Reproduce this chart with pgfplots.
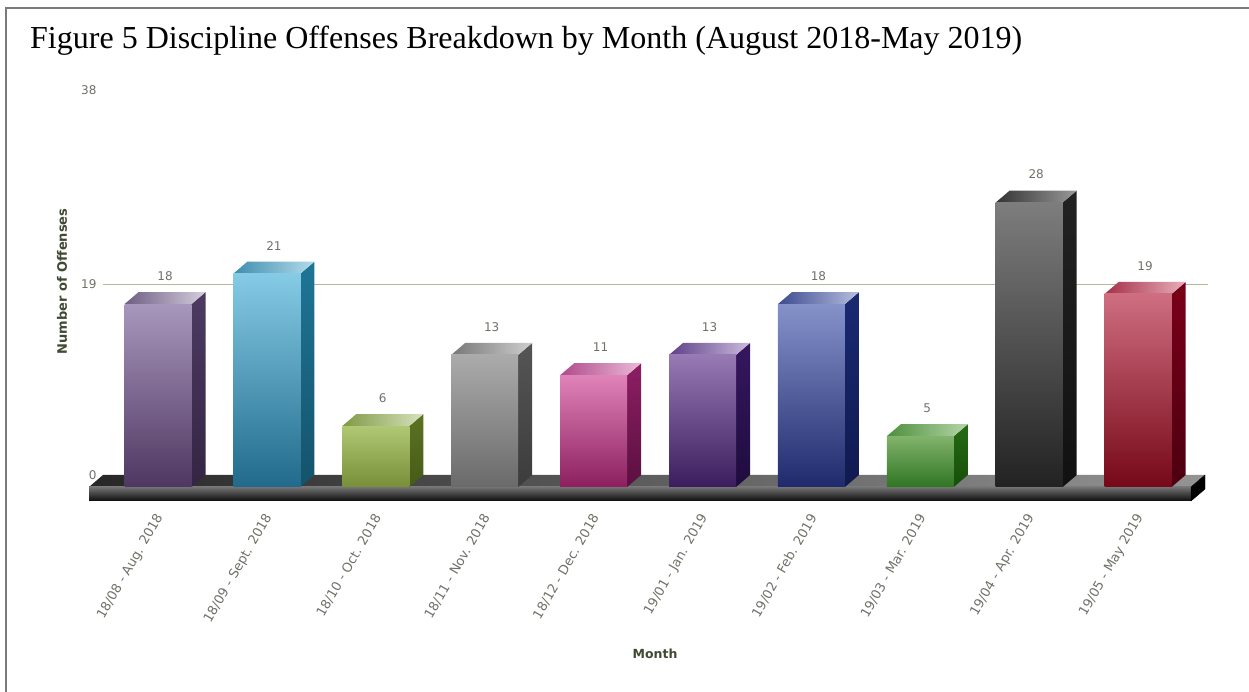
\documentclass[border=0pt]{standalone}
\usepackage{pgfplots}
\usepackage{fontspec}
\pgfplotsset{compat=1.18}
\setmainfont{Liberation Serif}
\newfontfamily\chartfont{DejaVu Sans}

\definecolor{ticktext}{HTML}{6F7168}
\definecolor{axistitle}{HTML}{3F4A30}
\definecolor{guide}{HTML}{B4B79C}

% Palette of one column: front (top, bottom), side (top, bottom), cap (left, right)
\newcommand{\palette}[7]{%
  \definecolor{#1ft}{HTML}{#2}\definecolor{#1fb}{HTML}{#3}%
  \definecolor{#1st}{HTML}{#4}\definecolor{#1sb}{HTML}{#5}%
  \definecolor{#1cl}{HTML}{#6}\definecolor{#1cr}{HTML}{#7}}
\palette{a}{A897BD}{4E3760}{4C3A62}{352543}{6E5D84}{D5CEDD}
\palette{b}{85CBE6}{216A8B}{1F7596}{14536B}{3F8DAE}{B3DCEB}
\palette{c}{B0C774}{788F38}{5C7322}{465A16}{7F9A45}{D8E2BE}
\palette{d}{ABABAB}{6A6A6A}{555555}{3C3C3C}{777777}{CFCFCF}
\palette{e}{E083B9}{8C1F5F}{8D1E63}{5A1040}{B04A8C}{EBBAD6}
\palette{f}{9779B4}{3B1D5E}{35175F}{1F0C3E}{5E4088}{CABBDC}
\palette{g}{8592CA}{1E2A6C}{1A2A72}{101A50}{3D4B8F}{B6BEE0}
\palette{h}{82B36C}{2F7522}{246A14}{174F0A}{4D8F3E}{B6D6A8}
\palette{i}{7D7D7D}{222222}{222222}{111111}{333333}{999999}
\palette{j}{CE6E80}{760818}{7A0018}{4C0010}{A53048}{E8AEBB}

% One column of the chart: centre of the front face, value, palette name.
% Depth of the extrusion is 14 units across and 12/10.16 data units up.
\newcommand{\column}[3]{%
  \pgfmathsetmacro{\xl}{#1-33.5}%
  \pgfmathsetmacro{\xr}{#1+33.5}%
  \pgfmathsetmacro{\xb}{#1+47.5}%
  \pgfmathsetmacro{\xc}{#1-19.5}%
  \pgfmathsetmacro{\vf}{#2-1.18}%
  \edef\doside{\noexpand\addplot[draw=none,forget plot,top color=#3st,bottom color=#3sb]
    coordinates {(\xr,\vf) (\xb,#2) (\xb,0) (\xr,-1.18)} --cycle;}\doside
  \edef\docap{\noexpand\addplot[draw=none,forget plot,left color=#3cl,right color=#3cr]
    coordinates {(\xl,\vf) (\xr,\vf) (\xb,#2) (\xc,#2)} --cycle;}\docap
  \addplot[ybar,bar shift=0pt,bar width=67pt,yshift=-12pt,draw=none,forget plot,
    top color=#3ft,bottom color=#3fb,
    nodes near coords,
    /pgf/number format/assume math mode=true,
    nodes near coords style={anchor=center,xshift=7pt,yshift=28pt,
      font=\chartfont\fontsize{12}{14}\selectfont,text=ticktext}]
    coordinates {(#1,#2)};
}

\begin{document}
\begin{tikzpicture}[x=1pt,y=1pt]
\path[use as bounding box] (0,0) rectangle (1249,692);
\draw[line width=2pt,draw=black!52] (6,0) -- (6,684) -- (1249,684);
\node[anchor=base west,inner sep=0pt,font=\fontsize{32}{36}\selectfont] at (30,643)
  {Figure 5 Discipline Offenses Breakdown by Month (August 2018-May 2019)};
\begin{axis}[
  at={(100pt,191pt)},anchor=south west,
  scale only axis,width=1149pt,height=441pt,
  xmin=100,xmax=1249,ymin=-2.559,ymax=40.85,
  clip=false,
  axis line style={draw=none},
  major tick length=0pt,
  xtick={158,266.9,375.8,484.7,593.6,702.5,811.4,920.3,1029.2,1138.1},
  xticklabels={18/08 - Aug. 2018,18/09 - Sept. 2018,18/10 - Oct. 2018,18/11 - Nov. 2018,18/12 - Dec. 2018,19/01 - Jan. 2019,19/02 - Feb. 2019,19/03 - Mar. 2019,19/04 - Apr. 2019,19/05 - May 2019},
  xticklabel style={rotate=60,anchor=east,xshift=-8pt,yshift=-9pt,
    font=\chartfont\fontsize{13}{15}\selectfont,text=ticktext},
  ytick={0,18.8,37.9},
  yticklabels={0,19,38},
  yticklabel style={font=\chartfont\fontsize{12}{14}\selectfont,text=ticktext},
]
% guide line at the middle tick
\addplot[guide,line width=1pt,forget plot] coordinates {(103,18.8) (1208,18.8)};

% base slab: top face, front face, end cap
\addplot[draw=none,forget plot,left color=black!85,right color=black!42]
  coordinates {(89,-1.18) (1191,-1.18) (1205,0) (103,0)} --cycle;
\addplot[draw=none,forget plot,top color=black!55,bottom color=black!95]
  coordinates {(89,-1.18) (1191,-1.18) (1191,-2.559) (89,-2.559)} --cycle;
\addplot[black,fill=black,forget plot]
  coordinates {(1191,-1.18) (1205,0) (1205,-1.38) (1191,-2.559)} --cycle;

\column{158}{18}{a}
\column{266.9}{21}{b}
\column{375.8}{6}{c}
\column{484.7}{13}{d}
\column{593.6}{11}{e}
\column{702.5}{13}{f}
\column{811.4}{18}{g}
\column{920.3}{5}{h}
\column{1029.2}{28}{i}
\column{1138.1}{19}{j}
\end{axis}
% axis titles
\node[rotate=90,font=\chartfont\bfseries\fontsize{13}{15}\selectfont,text=axistitle] at (62,410.5) {Number of Offenses};
\node[font=\chartfont\bfseries\fontsize{12.5}{15}\selectfont,text=axistitle] at (655,38) {Month};
\end{tikzpicture}
\end{document}
